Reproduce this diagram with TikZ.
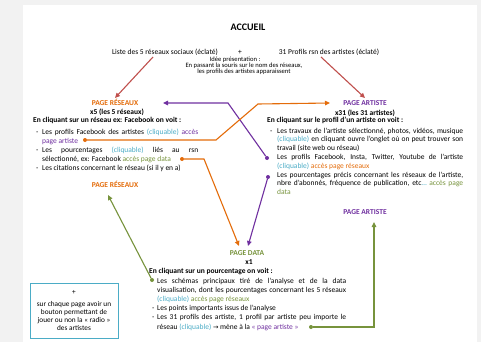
\documentclass[tikz,border=0pt]{standalone}
\usepackage{fontspec}
\setmainfont{Carlito}
\newfontfamily\dejavu{DejaVu Sans}
\usetikzlibrary{arrows.meta}
\definecolor{orng}{HTML}{E46C0A}
\definecolor{purp}{HTML}{7030A0}
\definecolor{olive}{HTML}{77933C}
\definecolor{clq}{HTML}{4BACC6}
\definecolor{redar}{HTML}{C0504D}
\definecolor{pagebg}{HTML}{F2F2F2}
\newcommand\JL[2]{\makebox[#1][s]{#2}}
\newcommand\clq[1]{\textcolor{clq}{#1}}
\tikzset{
 txt/.style={inner sep=0pt, font=\fontsize{7.5}{8.8}\selectfont, anchor=base west},
 ctxt/.style={txt, anchor=base},
 stxt/.style={ctxt, font=\fontsize{6.6}{7}\selectfont},
 btxt/.style={txt, font=\fontsize{7.5}{8.8}\selectfont\bfseries},
 hdr/.style={inner sep=0pt, font=\fontsize{7.5}{8}\selectfont\bfseries, anchor=base},
 conn/.style={line width=1.1pt, -{Triangle[length=5pt,width=4.5pt]}},
 dot/.style={circle, fill, inner sep=0pt, minimum size=4pt},
}
\begin{document}
\begin{tikzpicture}[x=1pt,y=-1pt]
\useasboundingbox (0,0) rectangle (481,342);
\fill[pagebg] (0,0) rectangle (481,342);
\fill[white] (23,5) rectangle (477,342);

% ---- top
\node[inner sep=0pt, font=\fontsize{10}{12}\selectfont\bfseries, anchor=base] (acc) at (248,31) {ACCUEIL};
\node[ctxt] (liste) at (165,55) {Liste des 5 réseaux sociaux (éclaté)};
\node[ctxt] (plus) at (240,55) {+};
\node[ctxt] (profils) at (329,55) {31 Profils rsn des artistes (éclaté)};
\node[stxt] (idee) at (235,61.5) {Idée présentation :};
\node[stxt] (passant) at (244,67.5) {En passant la souris sur le nom des réseaux,};
\node[stxt] (appar) at (244,73.5) {les profils des artistes apparaissent};

% ---- page reseaux
\node[hdr, orng] (prH) at (115,106) {PAGE RÉSEAUX};
\node[hdr] (prX) at (117,114) {x5 (les 5 réseaux)};
\node[btxt] (prI) at (33,122) {En cliquant sur un réseau ex: Facebook on voit :};
\node[txt] (prD1) at (36,134) {-};
\node[txt] (prL1) at (42,134) {\JL{156pt}{Les profils Facebook des artistes \clq{(cliquable)} \textcolor{purp}{accès}}};
\node[txt, purp] (prL2) at (42,143) {page artiste};
\node[txt] (prD2) at (36,152) {-};
\node[txt] (prL3) at (42,152) {\JL{156pt}{Les pourcentages \clq{(cliquable)} liés au rsn}};
\node[txt] (prL4) at (42,161) {sélectionné, ex: Facebook \textcolor{olive}{accès page data}};
\node[txt] (prD3) at (36,170) {-};
\node[txt] (prL5) at (42,170) {Les citations concernant le réseau (si il y en a)};
\node[hdr, orng] (prH2) at (115,187) {PAGE RÉSEAUX};

% ---- page artiste
\node[hdr, purp] (paH) at (365,106) {PAGE ARTISTE};
\node[hdr] (paX) at (365,115) {x31 (les 31 artistes)};
\node[btxt] (paI) at (267,122) {En cliquant sur le profil d’un artiste on voit :};
\node[txt] (paD1) at (270,133) {-};
\node[txt] (paL1) at (277,133) {\JL{186pt}{Les travaux de l’artiste sélectionné, photos, vidéos, musique}};
\node[txt] (paL2) at (277,141.8) {\JL{186pt}{\clq{(cliquable)} en cliquant ouvre l’onglet où on peut trouver son}};
\node[txt] (paL3) at (277,150.6) {travail (site web ou réseau)};
\node[txt] (paL4) at (277,159.4) {\JL{186pt}{Les profils Facebook, Insta, Twitter, Youtube de l’artiste}};
\node[txt] (paL5) at (277,168.2) {\clq{(cliquable)} \textcolor{orng}{accès page réseaux}};
\node[txt] (paL6) at (277,177) {\JL{186pt}{Les pourcentages précis concernant les réseaux de l’artiste,}};
\node[txt] (paL7) at (277,185.8) {\JL{186pt}{nbre d’abonnés, fréquence de publication, etc\clq{…} \textcolor{olive}{accès page}}};
\node[txt, olive] (paL8) at (277,194.6) {data};
\node[hdr, purp] (paH2) at (365,214) {PAGE ARTISTE};

% ---- page data
\node[hdr, olive] (pdH) at (247,255) {PAGE DATA};
\node[hdr] (pdX) at (249,264) {x1};
\node[btxt] (pdI) at (149,273) {En cliquant sur un pourcentage on voit :};
\node[txt] (pdL1) at (157,283) {\JL{189pt}{Les schémas principaux tiré de l’analyse et de la data}};
\node[txt] (pdL2) at (157,292) {\JL{189pt}{visualisation, dont les pourcentages concernant les 5 réseaux}};
\node[txt] (pdL3) at (157,301) {\clq{(cliquable)} \textcolor{olive}{accès page réseaux}};
\node[txt] (pdD4) at (152,310) {-};
\node[txt] (pdL4) at (157,310) {Les points importants issus de l’analyse};
\node[txt] (pdD5) at (152,319) {-};
\node[txt] (pdL5) at (157,319) {\JL{189pt}{Les 31 profils des artiste, 1 profil par artiste peu importe le}};
\node[txt] (pdL6) at (157,329) {réseau \clq{(cliquable)} {\dejavu\fontsize{6.5}{8}\selectfont →} mène à la \textcolor{purp}{« page artiste »}};

% ---- box
\node[draw=clq, line width=1pt, minimum width=88pt, minimum height=55pt, inner sep=2pt,
      align=center, font=\fontsize{7.3}{8}\selectfont] (box) at (74,310.5)
  {+\\[3.5pt]sur chaque page avoir un\\bouton permettant de\\jouer ou non la « radio »\\des artistes};

% ---- connectors
\coordinate (r1s) at (153,57);
\coordinate (r1e) at (115,98);
\coordinate (r2s) at (321,57);
\coordinate (r2e) at (365,98);
\draw[conn, redar] (r1s) -- (r1e);
\draw[conn, redar] (r2s) -- (r2e);

\node[dot, purp] (dp1) at (267,158) {};
\coordinate (p1a) at (228,103);
\coordinate (p1e) at (163,103);
\draw[conn, purp] (dp1) -- (p1a) -- (p1e);

\node[dot, orng] (do1) at (85,140) {};
\coordinate (o1a) at (216,140);
\coordinate (o1b) at (258,104);
\coordinate (o1e) at (330,103);
\draw[conn, orng] (do1) -- (o1a) -- (o1b) -- (o1e);

\node[dot, orng] (do2) at (182,159) {};
\coordinate (o2a) at (204,159);
\coordinate (o2e) at (239,246);
\draw[conn, orng] (do2) -- (o2a) -- (o2e);

\node[dot, purp] (dp2) at (268,177) {};
\coordinate (p2e) at (248,246);
\draw[conn, purp] (dp2) -- (p2e);

\node[dot, olive] (dg1) at (152,280) {};
\coordinate (g1e) at (108,195);
\draw[conn, olive] (dg1) -- (g1e);

\node[dot, olive] (dg2) at (311,327) {};
\coordinate (g2a) at (374,327);
\coordinate (g2e) at (374,222);
\draw[conn, olive] (dg2) -- (g2a) -- (g2e);
\end{tikzpicture}
\end{document}
